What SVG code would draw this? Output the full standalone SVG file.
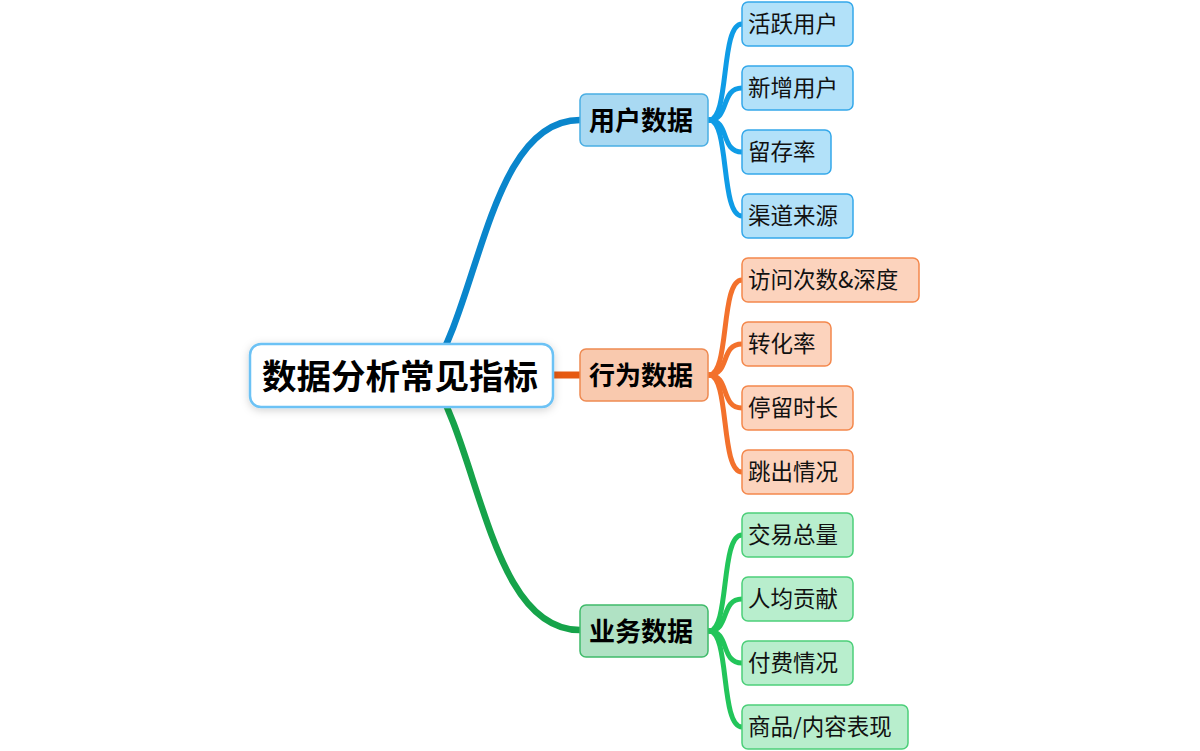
<svg xmlns="http://www.w3.org/2000/svg" width="1200" height="751" viewBox="0 0 1200 751">
<defs>
<filter id="sh" x="-20%" y="-40%" width="140%" height="180%">
<feDropShadow dx="0" dy="2" stdDeviation="4" flood-color="#000" flood-opacity="0.18"/>
</filter>
<style>
text{font-family:"Noto Sans CJK SC","Noto Sans",sans-serif;fill:#111}
.root{font-size:34.5px;font-weight:bold;fill:#000}
.br{font-size:26px;font-weight:bold;text-anchor:middle;fill:#000}
.lf{font-size:22.5px}
.c{fill:none;stroke-linecap:round}
.bb{fill:#a9d9f2;stroke:#4aaee3;stroke-width:1.5}
.lb{fill:#b2e1f9;stroke:#34a8ea;stroke-width:1.5}
.bo{fill:#f9c9ae;stroke:#ee8a52;stroke-width:1.5}
.lo{fill:#fcd3bd;stroke:#f4884c;stroke-width:1.5}
.bg{fill:#b0e2c4;stroke:#3fbb6a;stroke-width:1.5}
.lg{fill:#b8eecd;stroke:#4ccf79;stroke-width:1.5}
</style>
</defs>
<rect width="1200" height="751" fill="#fff"/>
<g id="connectors">
<path class="c" d="M 430 375 C 480 300, 490 120, 580 120" stroke="#0a86cc" stroke-width="6.5"/>
<path class="c" d="M 540 375 L 580 375" stroke="#e65a12" stroke-width="7"/>
<path class="c" d="M 430 375 C 480 450, 490 630, 580 630" stroke="#16a34a" stroke-width="6.5"/>
<g stroke="#0f9ce6" stroke-width="5" class="c">
<path d="M 709 120 C 730 120, 720 24, 742 24"/>
<path d="M 709 120 C 730 120, 720 88, 742 88"/>
<path d="M 709 120 C 730 120, 720 152, 742 152"/>
<path d="M 709 120 C 730 120, 720 216, 742 216"/>
</g>
<g stroke="#f3712c" stroke-width="5" class="c">
<path d="M 709 375 C 730 375, 720 280, 742 280"/>
<path d="M 709 375 C 730 375, 720 344, 742 344"/>
<path d="M 709 375 C 730 375, 720 408, 742 408"/>
<path d="M 709 375 C 730 375, 720 472, 742 472"/>
</g>
<g stroke="#22c55a" stroke-width="5" class="c">
<path d="M 709 631 C 730 631, 720 535, 742 535"/>
<path d="M 709 631 C 730 631, 720 599, 742 599"/>
<path d="M 709 631 C 730 631, 720 663, 742 663"/>
<path d="M 709 631 C 730 631, 720 727, 742 727"/>
</g>
</g>
<g id="root">
<rect x="250" y="344" width="303" height="63" rx="11" fill="#fff" stroke="#6cc2f5" stroke-width="2.5" filter="url(#sh)"/>
<text class="root" x="400" y="389" text-anchor="middle">数据分析常见指标</text>
</g>
<g id="b-user">
<rect class="bb" x="580" y="94" width="128" height="52" rx="6"/>
<text class="br" x="641" y="130">用户数据</text>
</g>
<g id="b-behavior">
<rect class="bo" x="580" y="349" width="128" height="52" rx="6"/>
<text class="br" x="641" y="385">行为数据</text>
</g>
<g id="b-business">
<rect class="bg" x="580" y="605" width="128" height="52" rx="6"/>
<text class="br" x="641" y="641">业务数据</text>
</g>
<g id="l1"><rect class="lb" x="742" y="2" width="111" height="44" rx="6"/><text class="lf" x="748" y="32">活跃用户</text></g>
<g id="l2"><rect class="lb" x="742" y="66" width="111" height="44" rx="6"/><text class="lf" x="748" y="96">新增用户</text></g>
<g id="l3"><rect class="lb" x="742" y="130" width="89" height="44" rx="6"/><text class="lf" x="748" y="160">留存率</text></g>
<g id="l4"><rect class="lb" x="742" y="194" width="111" height="44" rx="6"/><text class="lf" x="748" y="224">渠道来源</text></g>
<g id="l5"><rect class="lo" x="742" y="258" width="177" height="44" rx="6"/><text class="lf" x="748" y="288">访问次数&amp;深度</text></g>
<g id="l6"><rect class="lo" x="742" y="322" width="89" height="44" rx="6"/><text class="lf" x="748" y="352">转化率</text></g>
<g id="l7"><rect class="lo" x="742" y="386" width="111" height="44" rx="6"/><text class="lf" x="748" y="416">停留时长</text></g>
<g id="l8"><rect class="lo" x="742" y="450" width="111" height="44" rx="6"/><text class="lf" x="748" y="480">跳出情况</text></g>
<g id="l9"><rect class="lg" x="742" y="513" width="111" height="44" rx="6"/><text class="lf" x="748" y="543">交易总量</text></g>
<g id="l10"><rect class="lg" x="742" y="577" width="111" height="44" rx="6"/><text class="lf" x="748" y="607">人均贡献</text></g>
<g id="l11"><rect class="lg" x="742" y="641" width="111" height="44" rx="6"/><text class="lf" x="748" y="671">付费情况</text></g>
<g id="l12"><rect class="lg" x="742" y="705" width="166" height="44" rx="6"/><text class="lf" x="748" y="735">商品/内容表现</text></g>
</svg>
